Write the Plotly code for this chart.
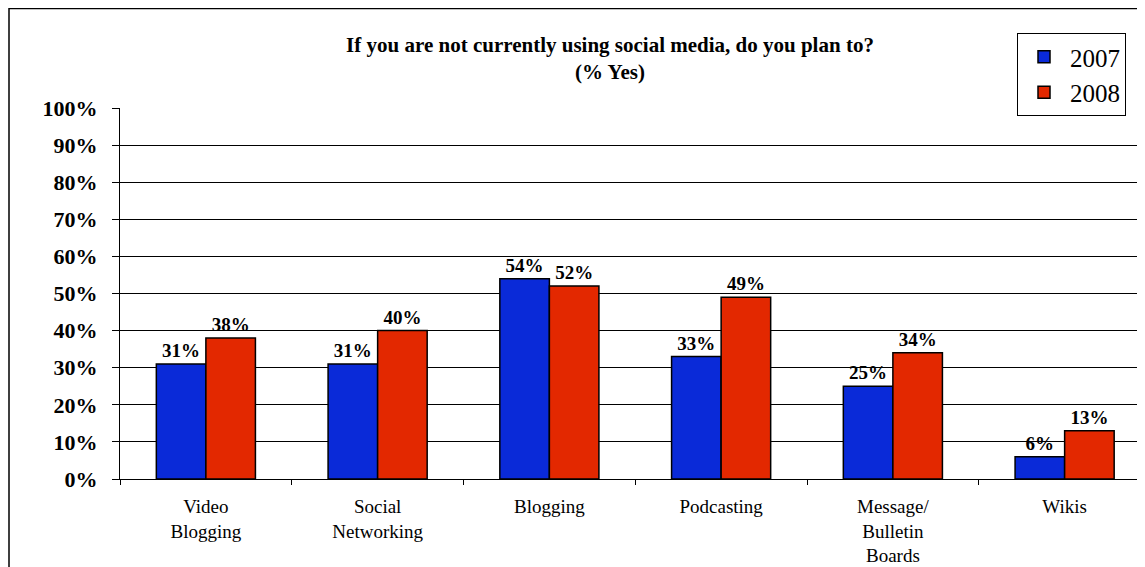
import plotly.graph_objects as go

categories = ["Video<br>Blogging", "Social<br>Networking", "Blogging", "Podcasting",
              "Message/<br>Bulletin<br>Boards", "Wikis"]
values_2007 = [31, 31, 54, 33, 25, 6]
values_2008 = [38, 40, 52, 49, 34, 13]
y_ticks = [0, 10, 20, 30, 40, 50, 60, 70, 80, 90, 100]
y_tick_labels = [f"<b>{v}%</b>" for v in y_ticks]

FONT = "Liberation Serif, Times New Roman, serif"
OFF = 8  # page body margin
W, H = 1145, 567
L, T = 120 - OFF, 108 - OFF
R = W - (1145 - OFF)
B = H - (479 - OFF)
pw, ph = W - L - R, H - T - B


def px_x(px):
    return (px - OFF - L) / pw


def px_y(py):
    return (H - B - (py - OFF)) / ph


fig = go.Figure()
fig.add_trace(go.Bar(
    x=categories, y=values_2007, name="2007",
    marker=dict(color="#0A2AD8", line=dict(color="black", width=1.5)),
    text=[f"<b>{v}%</b>" for v in values_2007], textposition="outside",
    textfont=dict(family=FONT, size=19, color="black"), cliponaxis=False,
))
fig.add_trace(go.Bar(
    x=categories, y=values_2008, name="2008",
    marker=dict(color="#E32800", line=dict(color="black", width=1.5)),
    text=[f"<b>{v}%</b>" for v in values_2008], textposition="outside",
    textfont=dict(family=FONT, size=19, color="black"), cliponaxis=False,
))

fig.update_layout(
    width=W, height=H,
    margin=dict(l=L, r=R, t=T, b=B, pad=0, autoexpand=False),
    paper_bgcolor="white", plot_bgcolor="white",
    barmode="group", bargap=0.423, bargroupgap=0,
    font=dict(family=FONT, color="black"),
    title=dict(
        text="<b>If you are not currently using social media, do you plan to?<br>(% Yes)</b>",
        x=px_x(610), xref="paper", xanchor="center",
        y=1 - (51.5 - OFF) / H, yanchor="middle",
        font=dict(family=FONT, size=21, color="black"),
    ),
    xaxis=dict(
        range=[-0.5, -0.5 + pw / 171.75],
        showline=True, linecolor="black", linewidth=1,
        ticks="outside", tickson="boundaries", ticklen=5, tickcolor="black",
        tickfont=dict(family=FONT, size=19, color="black"),
        ticklabelstandoff=10, automargin=False,
        showgrid=False,
    ),
    yaxis=dict(
        range=[0, 100], tickvals=y_ticks, ticktext=y_tick_labels,
        showline=True, linecolor="black", linewidth=1,
        ticks="outside", ticklen=7, tickcolor="black",
        tickfont=dict(family=FONT, size=22, color="black"),
        showgrid=True, gridcolor="black", gridwidth=1,
        ticklabelstandoff=10, automargin=False,
        zeroline=False,
    ),
    legend=dict(
        x=px_x(1017), y=px_y(33), xanchor="left", yanchor="top",
        bgcolor="white", bordercolor="black", borderwidth=1,
        font=dict(family=FONT, size=25, color="black"),
        tracegroupgap=0, itemwidth=42,
    ),
    shapes=[dict(
        type="rect", xref="paper", yref="paper",
        x0=px_x(9), x1=px_x(1170), y0=px_y(620), y1=px_y(8.5),
        line=dict(color="black", width=1.5), fillcolor="rgba(0,0,0,0)", layer="below",
    )],
)

fig.write_html("out.html")
